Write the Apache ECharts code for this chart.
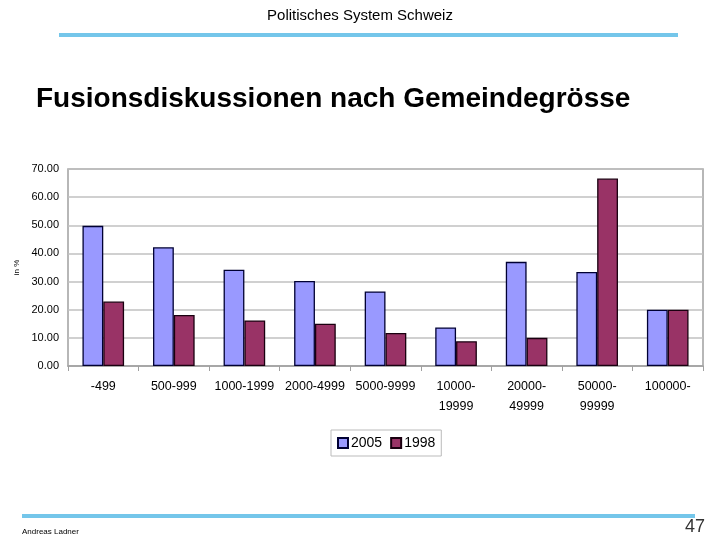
<!DOCTYPE html>
<html>
<head>
<meta charset="utf-8">
<title>Fusionsdiskussionen nach Gemeindegrösse</title>
<script src="https://cdn.jsdelivr.net/npm/echarts@6/dist/echarts.min.js"></script>
<style>
  html, body { margin: 0; padding: 0; background: #fff; }
  #main { width: 720px; height: 540px; }
</style>
</head>
<body>
<div id="main"></div>
<script>
// Gemeindegrössen (Einwohner)
var sizeClasses = ['-499', '500-999', '1000-1999', '2000-4999', '5000-9999',
                   '10000-\n19999', '20000-\n49999', '50000-\n99999', '100000-'];
// Anteil Gemeinden mit Fusionsdiskussionen, in %
var share2005 = [49.8, 42.2, 34.2, 30.2, 26.5, 13.7, 37.0, 33.4, 20.0];
var share1998 = [22.9, 18.1, 16.2, 15.0, 11.7, 8.8, 10.0, 66.6, 20.0];
var yTicks = [0, 70, 10];

var dom = document.getElementById('main');
var myChart = echarts.init(dom);

var option = {
    backgroundColor: '#fff',
    animation: false,
    textStyle: { fontFamily: 'Liberation Sans, Arial, sans-serif' },
    title: [
        {
            text: 'Politisches System Schweiz',
            left: 'center',
            top: 3,
            textStyle: { fontSize: 15, fontWeight: 'normal', color: '#000' }
        },
        {
            text: 'Fusionsdiskussionen nach Gemeindegrösse',
            left: 31,
            top: 80,
            textStyle: { fontSize: 28, fontWeight: 'bold', color: '#000' }
        },
        {
            text: 'Andreas Ladner',
            left: 17,
            top: 523,
            textStyle: { fontSize: 8, fontWeight: 'normal', color: '#000' }
        },
        {
            text: '47',
            right: 10,
            top: 513,
            textStyle: { fontSize: 18, fontWeight: 'normal', color: '#333' }
        }
    ],
    graphic: [
        { type: 'rect', shape: { x: 59, y: 33, width: 619, height: 4 }, style: { fill: '#74c6ea' } },
        { type: 'rect', shape: { x: 22, y: 514, width: 673, height: 4 }, style: { fill: '#74c6ea' } }
    ],
    legend: {
        data: ['2005', '1998'],
        left: 331,
        top: 430,
        padding: [6, 6, 6, 6],
        itemGap: 8,
        itemWidth: 10,
        itemHeight: 10,
        icon: 'rect',
        borderColor: '#bbb',
        borderWidth: 1,
        textStyle: { fontSize: 14, color: '#000', padding: [0, 0, 0, -2] }
    },
    grid: {
        left: 68,
        right: 17,
        top: 169,
        bottom: 174,
        show: true,
        borderColor: '#a0a0a0',
        borderWidth: 1.5,
        containLabel: false
    },
    xAxis: {
        type: 'category',
        data: sizeClasses,
        axisLine: { lineStyle: { color: '#a0a0a0', width: 1.5 } },
        axisTick: { show: true, length: 5, lineStyle: { color: '#a0a0a0' } },
        axisLabel: { color: '#000', fontSize: 12.5, margin: 11, lineHeight: 20, interval: 0 }
    },
    yAxis: {
        type: 'value',
        min: yTicks[0],
        max: yTicks[1],
        interval: yTicks[2],
        name: 'in %',
        nameLocation: 'middle',
        nameRotate: 90,
        nameGap: 46,
        nameTextStyle: { fontSize: 8, color: '#000' },
        axisLine: { show: false },
        axisTick: { show: false },
        axisLabel: {
            color: '#000',
            fontSize: 11,
            margin: 9,
            formatter: function (v) { return v.toFixed(2); }
        },
        splitLine: { lineStyle: { color: '#c0c0c0', width: 1.5 } }
    },
    series: [
        {
            name: '2005',
            type: 'bar',
            data: share2005,
            barGap: '0%',
            barCategoryGap: '41%',
            itemStyle: { color: '#9999ff', borderColor: '#000033', borderWidth: 1.3 }
        },
        {
            name: '1998',
            type: 'bar',
            data: share1998,
            itemStyle: { color: '#993366', borderColor: '#1a0010', borderWidth: 1.3 }
        }
    ]
};

if (option && typeof option === 'object') {
    myChart.setOption(option);
}
</script>
</body>
</html>
